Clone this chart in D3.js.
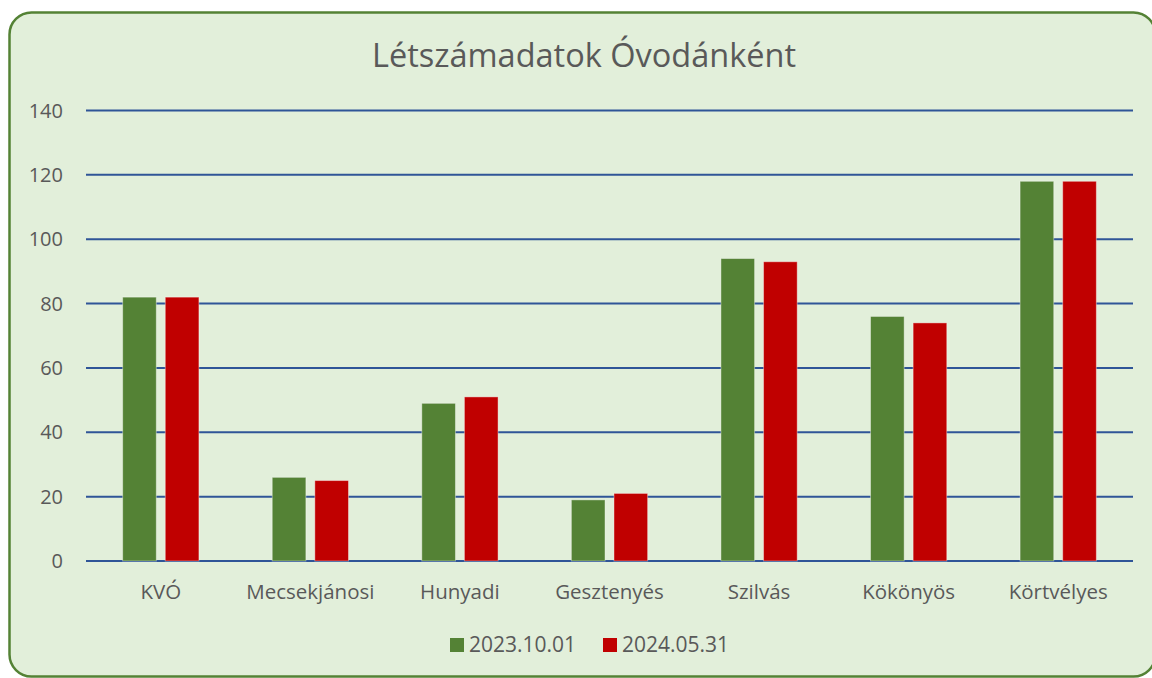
<!DOCTYPE html>
<html>
<head>
<meta charset="utf-8">
<script src="https://cdn.jsdelivr.net/npm/d3@7"></script>
<style>
  body { margin: 0; background: #fff; }
  text { font-family: "Open Sans", sans-serif; fill: #595959; }
</style>
</head>
<body>
<script>
// data
var categories = ["KVÓ", "Mecsekjánosi", "Hunyadi", "Gesztenyés", "Szilvás", "Kökönyös", "Körtvélyes"];
var seriesNames = ["2023.10.01", "2024.05.31"];
var values2023 = [82, 26, 49, 19, 94, 76, 118];
var values2024 = [82, 25, 51, 21, 93, 74, 118];
var yTicks = [0, 20, 40, 60, 80, 100, 120, 140];
var colours = ["#548235", "#C00000"];

var width = 1152, height = 678;
var plot = { left: 86, right: 1133, top: 110.5, bottom: 561 };

var svg = d3.select("body").append("svg")
	.attr("width", width)
	.attr("height", height);

// chart area with rounded green border
svg.append("rect")
	.attr("x", 9.5).attr("y", 12.5)
	.attr("width", 1146).attr("height", 664)
	.attr("rx", 22).attr("ry", 22)
	.attr("fill", "#E2EFDA")
	.attr("stroke", "#548235")
	.attr("stroke-width", 2.5);

svg.append("text")
	.attr("x", 584).attr("y", 67)
	.attr("text-anchor", "middle")
	.attr("font-size", 32.5)
	.text("Létszámadatok Óvodánként");

var y = d3.scaleLinear().domain([0, 140]).range([plot.bottom, plot.top]);

var x0 = d3.scaleBand()
	.domain(categories)
	.range([plot.left, plot.right])
	.paddingInner(0.49)
	.paddingOuter(0.245);

var x1 = d3.scaleBand()
	.domain(seriesNames)
	.range([0, x0.bandwidth()])
	.paddingInner(0.21);

// gridlines
svg.append("g").selectAll("line")
	.data(yTicks)
	.enter().append("line")
	.attr("x1", plot.left).attr("x2", plot.right)
	.attr("y1", function(d) { return y(d); })
	.attr("y2", function(d) { return y(d); })
	.attr("stroke", "#2F5597")
	.attr("stroke-width", 2);

// y tick labels
svg.append("g").selectAll("text")
	.data(yTicks)
	.enter().append("text")
	.attr("x", 63)
	.attr("y", function(d) { return y(d); })
	.attr("dy", "0.35em")
	.attr("text-anchor", "end")
	.attr("font-size", 20)
	.text(function(d) { return d; });

// bars
var rows = categories.map(function(c, i) {
	return { cat: c, vals: [values2023[i], values2024[i]] };
});

var groups = svg.append("g").selectAll("g")
	.data(rows)
	.enter().append("g")
	.attr("transform", function(d) { return "translate(" + x0(d.cat) + ",0)"; });

groups.selectAll("rect")
	.data(function(d) {
		return d.vals.map(function(v, j) { return { name: seriesNames[j], value: v, j: j }; });
	})
	.enter().append("rect")
	.attr("x", function(d) { return x1(d.name); })
	.attr("y", function(d) { return y(d.value); })
	.attr("width", x1.bandwidth())
	.attr("height", function(d) { return y(0) - y(d.value); })
	.attr("fill", function(d) { return colours[d.j]; })
	.attr("stroke", "rgba(255,255,255,0.4)")
	.attr("stroke-width", 1);

// category labels
svg.append("g").selectAll("text")
	.data(categories)
	.enter().append("text")
	.attr("x", function(d) { return x0(d) + x0.bandwidth() / 2; })
	.attr("y", 599)
	.attr("text-anchor", "middle")
	.attr("font-size", 20.5)
	.text(function(d) { return d; });

// legend
var legendX = [450, 603];
var legend = svg.append("g").selectAll("g")
	.data(seriesNames)
	.enter().append("g")
	.attr("transform", function(d, i) { return "translate(" + legendX[i] + ",638)"; });

legend.append("rect")
	.attr("width", 14).attr("height", 14)
	.attr("fill", function(d, i) { return colours[i]; });

legend.append("text")
	.attr("x", 19).attr("y", 13.7)
	.attr("font-size", 21)
	.text(function(d) { return d; });
</script>
</body>
</html>
